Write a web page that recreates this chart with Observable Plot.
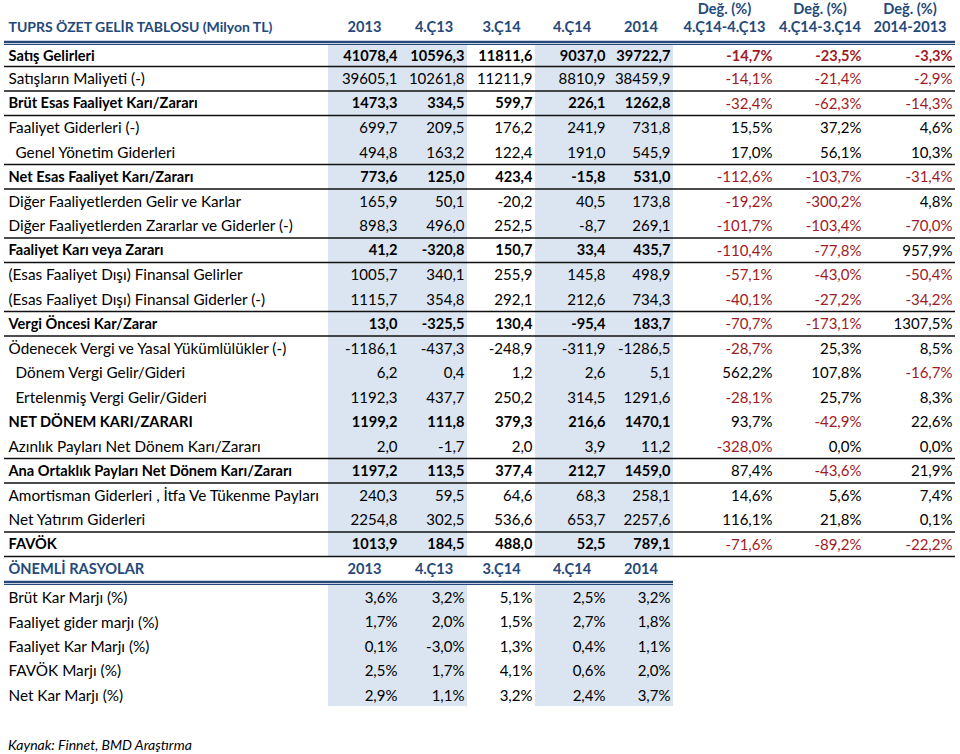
<!DOCTYPE html>
<html><head><meta charset="utf-8">
<script src="https://cdn.jsdelivr.net/npm/d3@7"></script>
<script src="https://cdn.jsdelivr.net/npm/@observablehq/plot@0.6"></script>
<style>
html,body{margin:0;padding:0;background:#fff;}
#chart svg{display:block;}
#caption{font-family:Lato,sans-serif;font-style:italic;font-size:14px;padding-left:8px;height:24px;line-height:29px;color:#000;}
</style></head><body>
<div id="chart"></div>
<div id="caption"></div>
<script>
// ---------- DATA ----------
const tableTitle = "TUPRS ÖZET GELİR TABLOSU (Milyon TL)";
const ratioTitle = "ÖNEMLİ RASYOLAR";
const sourceNote = "Kaynak: Finnet, BMD Araştırma";
const periodHeaders = ["2013", "4.Ç13", "3.Ç14", "4.Ç14", "2014"];
const changeTop = "Değ. (%)";
const changeHeaders = ["4.Ç14-4.Ç13", "4.Ç14-3.Ç14", "2014-2013"];

const labels = [
  "Satış Gelirleri", "Satışların Maliyeti (-)", "Brüt Esas Faaliyet Karı/Zararı",
  "Faaliyet Giderleri (-)", "Genel Yönetim Giderleri", "Net Esas Faaliyet Karı/Zararı",
  "Diğer Faaliyetlerden Gelir ve Karlar", "Diğer Faaliyetlerden Zararlar ve Giderler (-)",
  "Faaliyet Karı veya Zararı", "(Esas Faaliyet Dışı) Finansal Gelirler",
  "(Esas Faaliyet Dışı) Finansal Giderler (-)", "Vergi Öncesi Kar/Zarar",
  "Ödenecek Vergi ve Yasal Yükümlülükler (-)", "Dönem Vergi Gelir/Gideri",
  "Ertelenmiş Vergi Gelir/Gideri", "NET DÖNEM KARI/ZARARI",
  "Azınlık Payları Net Dönem Karı/Zararı", "Ana Ortaklık Payları Net Dönem Karı/Zararı",
  "Amortisman Giderleri , İtfa Ve Tükenme Payları", "Net Yatırım Giderleri", "FAVÖK"
];
const v2013 = [41078.4, 39605.1, 1473.3, 699.7, 494.8, 773.6, 165.9, 898.3, 41.2, 1005.7, 1115.7, 13.0, -1186.1, 6.2, 1192.3, 1199.2, 2.0, 1197.2, 240.3, 2254.8, 1013.9];
const v4q13 = [10596.3, 10261.8, 334.5, 209.5, 163.2, 125.0, 50.1, 496.0, -320.8, 340.1, 354.8, -325.5, -437.3, 0.4, 437.7, 111.8, -1.7, 113.5, 59.5, 302.5, 184.5];
const v3q14 = [11811.6, 11211.9, 599.7, 176.2, 122.4, 423.4, -20.2, 252.5, 150.7, 255.9, 292.1, 130.4, -248.9, 1.2, 250.2, 379.3, 2.0, 377.4, 64.6, 536.6, 488.0];
const v4q14 = [9037.0, 8810.9, 226.1, 241.9, 191.0, -15.8, 40.5, -8.7, 33.4, 145.8, 212.6, -95.4, -311.9, 2.6, 314.5, 216.6, 3.9, 212.7, 68.3, 653.7, 52.5];
const v2014 = [39722.7, 38459.9, 1262.8, 731.8, 545.9, 531.0, 173.8, 269.1, 435.7, 498.9, 734.3, 183.7, -1286.5, 5.1, 1291.6, 1470.1, 11.2, 1459.0, 258.1, 2257.6, 789.1];
const chgQ4vsQ4 = [-14.7, -14.1, -32.4, 15.5, 17.0, -112.6, -19.2, -101.7, -110.4, -57.1, -40.1, -70.7, -28.7, 562.2, -28.1, 93.7, -328.0, 87.4, 14.6, 116.1, -71.6];
const chgQ4vsQ3 = [-23.5, -21.4, -62.3, 37.2, 56.1, -103.7, -300.2, -103.4, -77.8, -43.0, -27.2, -173.1, 25.3, 107.8, 25.7, -42.9, 0.0, -43.6, 5.6, 21.8, -89.2];
const chgYear = [-3.3, -2.9, -14.3, 4.6, 10.3, -31.4, 4.8, -70.0, 957.9, -50.4, -34.2, 1307.5, 8.5, -16.7, 8.3, 22.6, 0.0, 21.9, 7.4, 0.1, -22.2];

const ratioLabels = ["Brüt Kar Marjı (%)", "Faaliyet gider marjı (%)", "Faaliyet Kar Marjı (%)", "FAVÖK Marjı (%)", "Net Kar Marjı (%)"];
const r2013 = [3.6, 1.7, 0.1, 2.5, 2.9];
const r4q13 = [3.2, 2.0, -3.0, 1.7, 1.1];
const r3q14 = [5.1, 1.5, 1.3, 4.1, 3.2];
const r4q14 = [2.5, 2.7, 0.4, 0.6, 2.4];
const r2014 = [3.2, 1.8, 1.1, 2.0, 3.7];

// ---------- STYLE CONFIG ----------
const boldRows = new Set(["Satış Gelirleri", "Brüt Esas Faaliyet Karı/Zararı", "Net Esas Faaliyet Karı/Zararı",
  "Faaliyet Karı veya Zararı", "Vergi Öncesi Kar/Zarar", "NET DÖNEM KARI/ZARARI",
  "Ana Ortaklık Payları Net Dönem Karı/Zararı", "FAVÖK"]);
const boldPctRows = new Set(["Satış Gelirleri"]);
const indentRows = new Set(["Genel Yönetim Giderleri", "Dönem Vergi Gelir/Gideri", "Ertelenmiş Vergi Gelir/Gideri"]);
const ruleAfter = new Set(["Satış Gelirleri", "Satışların Maliyeti (-)", "Brüt Esas Faaliyet Karı/Zararı",
  "Genel Yönetim Giderleri", "Net Esas Faaliyet Karı/Zararı", "Diğer Faaliyetlerden Zararlar ve Giderler (-)",
  "Faaliyet Karı veya Zararı", "(Esas Faaliyet Dışı) Finansal Giderler (-)", "Vergi Öncesi Kar/Zarar",
  "Azınlık Payları Net Dönem Karı/Zararı", "Ana Ortaklık Payları Net Dönem Karı/Zararı",
  "Net Yatırım Giderleri", "FAVÖK"]);
const shadedHeaders = new Set(["2013", "4.Ç13", "4.Ç14", "2014"]);
const BLUE = "#24497a", RED = "#9e1b26", SHADE = "#dbe5f1", FONT = "Lato, sans-serif";

// ---------- BUILD ----------
const loc = d3.formatLocale({decimal: ",", thousands: ".", grouping: [3], currency: ["", ""], minus: "-"});
const f1 = loc.format(".1f");
const pct = v => f1(v) + "%";

const periodCols = [v2013, v4q13, v3q14, v4q14, v2014];
const changeCols = [chgQ4vsQ4, chgQ4vsQ3, chgYear];
const ratioCols = [r2013, r4q13, r3q14, r4q14, r2014];

const nMain = labels.length;            // rows 1..21
const ratioHeadRow = nMain + 1;         // 22
const ratioStart = ratioHeadRow + 1;    // 23

const rowLabels = labels.map((label, i) => ({label, row: i + 1, bold: boldRows.has(label), indent: indentRows.has(label)}));
const ratioRowLabels = ratioLabels.map((label, i) => ({label, row: ratioStart + i}));

const cells = [];
labels.forEach((label, i) => {
  periodCols.forEach((arr, c) => cells.push({row: i + 1, col: c + 1, text: f1(arr[i]), bold: boldRows.has(label), fill: "#000"}));
  changeCols.forEach((arr, c) => cells.push({row: i + 1, col: c + 6, text: pct(arr[i]), bold: boldPctRows.has(label), fill: arr[i] < 0 ? RED : "#000"}));
});
ratioLabels.forEach((label, i) => {
  ratioCols.forEach((arr, c) => cells.push({row: ratioStart + i, col: c + 1, text: pct(arr[i]), bold: false, fill: "#000"}));
});

const headCells = periodHeaders.map((h, c) => ({text: h, col: c + 1}));
const changeHeadCells = changeHeaders.map((h, c) => ({text: h, col: c + 6}));

const shades = [];
periodHeaders.forEach((h, c) => {
  if (shadedHeaders.has(h)) {
    shades.push({x1: c + 1, x2: c + 2, y1: 1, y2: nMain + 1});
    shades.push({x1: c + 1, x2: c + 2, y1: ratioStart, y2: ratioStart + ratioLabels.length});
  }
});
const rules = rowLabels.filter(d => ruleAfter.has(d.label)).map(d => ({y: d.row + 1}));

const fsReg = 15.3, fsBold = 14.6, fsHead = 14.6;
const plot = Plot.plot({
  width: 960, height: 730, margin: 0,
  style: {fontFamily: FONT, fontSize: fsReg + "px", background: "#fff"},
  x: {type: "linear", axis: null, domain: [0, 1, 2, 3, 4, 5, 6, 7, 8, 9],
      range: [4, 328, 400, 467, 535, 608, 673, 775, 864, 955]},
  y: {type: "linear", axis: null, domain: [0, 1, 2, nMain + 1, ratioStart, ratioStart + ratioLabels.length],
      range: [0, 44, 66, 556, 584, 706]},
  color: {type: "identity"},
  marks: [
    Plot.rect(shades, {x1: "x1", x2: "x2", y1: "y1", y2: "y2", fill: SHADE}),
    // row separators
    Plot.ruleY(rules, {y: "y", x1: () => 0, x2: () => 9, stroke: "#111", strokeWidth: 1.6}),
    // header double rules
    Plot.ruleY([1], {y: d => d, x1: () => 0, x2: () => 9, stroke: BLUE, strokeWidth: 2.3, dy: -2.5}),
    Plot.ruleY([1], {y: d => d, x1: () => 0, x2: () => 9, stroke: BLUE, strokeWidth: 1.2, dy: 0}),
    Plot.ruleY([ratioStart], {y: d => d, x1: () => 0, x2: () => 6, stroke: BLUE, strokeWidth: 2.3, dy: -2.5}),
    Plot.ruleY([ratioStart], {y: d => d, x1: () => 0, x2: () => 6, stroke: BLUE, strokeWidth: 1.2, dy: 0}),
    // header texts
    Plot.text([tableTitle], {x: () => 0, y: () => 1, text: d => d, textAnchor: "start", dx: 4, dy: -17, fill: BLUE, fontWeight: "bold", fontSize: 14}),
    Plot.text(headCells, {x: d => d.col + 0.5, y: () => 1, text: "text", dy: -17, fill: BLUE, fontWeight: "bold", fontSize: fsHead}),
    Plot.text(changeHeadCells, {x: d => d.col + 0.5, y: () => 1, text: "text", dy: -17, fill: BLUE, fontWeight: "bold", fontSize: fsHead}),
    Plot.text(changeHeadCells, {x: d => d.col + 0.5, y: () => 1, text: () => changeTop, dy: -35, fill: BLUE, fontWeight: "bold", fontSize: fsHead}),
    Plot.text([ratioTitle], {x: () => 0, y: () => ratioHeadRow + 0.5, text: d => d, textAnchor: "start", dx: 4, dy: -1.5, fill: BLUE, fontWeight: "bold", fontSize: fsHead}),
    Plot.text(headCells, {x: d => d.col + 0.5, y: () => ratioHeadRow + 0.5, text: "text", dy: -1.5, fill: BLUE, fontWeight: "bold", fontSize: fsHead}),
    // row labels
    Plot.text(rowLabels.filter(d => d.bold), {x: () => 0, y: d => d.row + 0.5, text: "label", textAnchor: "start", dx: 4, dy: 0.5, fontWeight: "bold", fontSize: fsBold, fill: "#000"}),
    Plot.text(rowLabels.filter(d => !d.bold && !d.indent), {x: () => 0, y: d => d.row + 0.5, text: "label", textAnchor: "start", dx: 4, dy: 0.5, fontSize: fsReg, fill: "#000"}),
    Plot.text(rowLabels.filter(d => d.indent), {x: () => 0, y: d => d.row + 0.5, text: "label", textAnchor: "start", dx: 11, dy: 0.5, fontSize: fsReg, fill: "#000"}),
    Plot.text(ratioRowLabels, {x: () => 0, y: d => d.row + 0.5, text: "label", textAnchor: "start", dx: 4, dy: 1.5, fontSize: fsReg, fill: "#000"}),
    // values
    Plot.text(cells.filter(d => d.bold), {x: d => d.col + 1, y: d => d.row + 0.5, text: "text", textAnchor: "end", dx: -3, dy: 0.5, fill: "fill", fontWeight: "bold", fontSize: fsBold}),
    Plot.text(cells.filter(d => !d.bold && d.row <= nMain), {x: d => d.col + 1, y: d => d.row + 0.5, text: "text", textAnchor: "end", dx: -3, dy: 0.5, fill: "fill", fontSize: 15}),
    Plot.text(cells.filter(d => !d.bold && d.row > nMain), {x: d => d.col + 1, y: d => d.row + 0.5, text: "text", textAnchor: "end", dx: -3, dy: 1.5, fill: "fill", fontSize: 15})
  ]
});
document.getElementById("chart").append(plot);
document.getElementById("caption").textContent = sourceNote;
</script>
</body></html>
